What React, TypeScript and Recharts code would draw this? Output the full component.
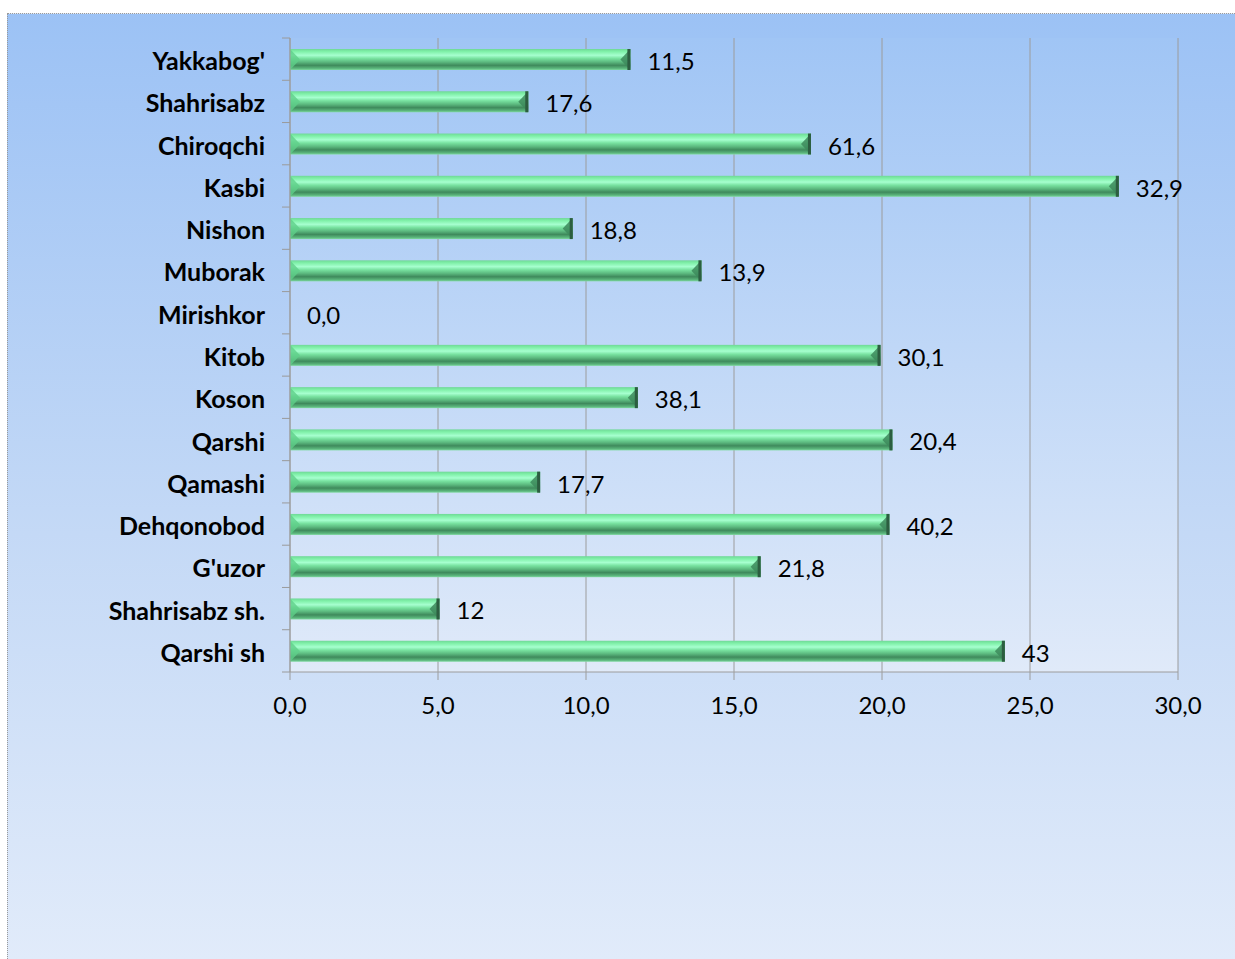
import { BarChart, Bar, XAxis, YAxis, CartesianGrid, LabelList } from "recharts"

// districts, top to bottom
const districts = [
  "Yakkabog'",
  "Shahrisabz",
  "Chiroqchi",
  "Kasbi",
  "Nishon",
  "Muborak",
  "Mirishkor",
  "Kitob",
  "Koson",
  "Qarshi",
  "Qamashi",
  "Dehqonobod",
  "G'uzor",
  "Shahrisabz sh.",
  "Qarshi sh",
]

// bar lengths as drawn
const barValues = [11.5, 8.05, 17.6, 28.0, 9.55, 13.9, 0, 19.95, 11.75, 20.35, 8.45, 20.25, 15.9, 5.05, 24.15]

// the printed labels (they do not match the bar lengths in the source)
const printedLabels = ["11,5", "17,6", "61,6", "32,9", "18,8", "13,9", "0,0", "30,1", "38,1", "20,4", "17,7", "40,2", "21,8", "12", "43"]

const xTicks = [0, 5, 10, 15, 20, 25, 30]

const W = 1235
const H = 959
const X_AXIS_H = 30
const M = { top: 38, right: 57, bottom: 287 - X_AXIS_H, left: 0 }
const bandH = (H - 38 - 287) / districts.length
const FONT = "Lato, 'Open Sans', sans-serif"

const data = districts.map((name, i) => ({ name, value: barValues[i], label: printedLabels[i] }))

function CategoryTick(props: any) {
  const { x, y, payload, index } = props
  const top = y - bandH / 2
  return (
    <g>
      <line x1={x - 8} y1={top} x2={x} y2={top} stroke="#9a9a9a" />
      {index === districts.length - 1 && (
        <line x1={x - 8} y1={y + bandH / 2} x2={x} y2={y + bandH / 2} stroke="#9a9a9a" />
      )}
      <text x={x - 25} y={y} dy={11} textAnchor="end" fontFamily={FONT} fontWeight="bold" fontSize={25} fill="#000">
        {payload.value}
      </text>
    </g>
  )
}

function BevelBar(props: any) {
  const { x, y, width, height } = props
  if (!width || width <= 0) return null
  const cap = Math.min(3, width)
  const b = Math.min(10, width / 2)
  return (
    <g>
      <rect x={x} y={y} width={width} height={height} fill="url(#barGrad)" />
      <polygon
        points={`${x},${y} ${x + b},${y + height / 2} ${x},${y + height}`}
        fill="#5fd08a"
        opacity={0.8}
      />
      <polygon
        points={`${x + width},${y} ${x + width - b},${y + height / 2} ${x + width},${y + height}`}
        fill="#3d8a5c"
        opacity={0.85}
      />
      <rect x={x + width - cap} y={y} width={cap} height={height} fill="#2c5e40" />
    </g>
  )
}

export default function App() {
  return (
    <div style={{ position: "absolute", left: 0, top: 0, width: W, height: H, background: "#fff" }}>
      <div
        style={{
          position: "absolute",
          left: 7,
          top: 13,
          right: 0,
          bottom: 0,
          background: "linear-gradient(180deg, #9cc2f5 0%, #c4d9f6 55%, #e1ebfa 100%)",
          borderLeft: "1px dotted #9a9a9a",
          borderTop: "1px dotted #9a9a9a",
        }}
      />
      <div style={{ position: "absolute", left: 0, top: 0 }}>
        <BarChart width={W} height={H} data={data} layout="vertical" margin={M} barSize={21}>
          <defs>
            <linearGradient id="plotGrad" x1="0" y1="0" x2="0" y2="1">
              <stop offset="0%" stopColor="#a0c5f5" />
              <stop offset="100%" stopColor="#e0eaf9" />
            </linearGradient>
            <linearGradient id="barGrad" x1="0" y1="0" x2="0" y2="1">
              <stop offset="0%" stopColor="#6fd897" />
              <stop offset="12%" stopColor="#7ff0a8" />
              <stop offset="30%" stopColor="#a6ffcf" />
              <stop offset="45%" stopColor="#78e2a0" />
              <stop offset="62%" stopColor="#5cb97f" />
              <stop offset="78%" stopColor="#3f8a5c" />
              <stop offset="92%" stopColor="#5ab47b" />
              <stop offset="100%" stopColor="#7fd9a0" />
            </linearGradient>
          </defs>
          <CartesianGrid horizontal={false} stroke="#9c9c9c" fill="url(#plotGrad)" fillOpacity={1} />
          <XAxis
            type="number"
            domain={[0, 30]}
            ticks={xTicks}
            interval={0}
            height={X_AXIS_H}
            tickFormatter={(v: number) => v.toFixed(1).replace(".", ",")}
            axisLine={{ stroke: "#9c9c9c" }}
            tickLine={{ stroke: "#9c9c9c" }}
            tickSize={8}
            tickMargin={17}
            tick={{ fill: "#000", fontSize: 24, fontFamily: FONT }}
          />
          <YAxis
            type="category"
            dataKey="name"
            width={290}
            interval={0}
            axisLine={{ stroke: "#9c9c9c" }}
            tickLine={false}
            tickSize={0}
            tickMargin={0}
            tick={<CategoryTick />}
          />
          <Bar dataKey="value" shape={<BevelBar />} isAnimationActive={false}>
            <LabelList
              dataKey="label"
              position="right"
              offset={17}
              dy={2}
              fill="#000"
              fontSize={24}
              fontFamily={FONT}
            />
          </Bar>
        </BarChart>
      </div>
    </div>
  )
}
